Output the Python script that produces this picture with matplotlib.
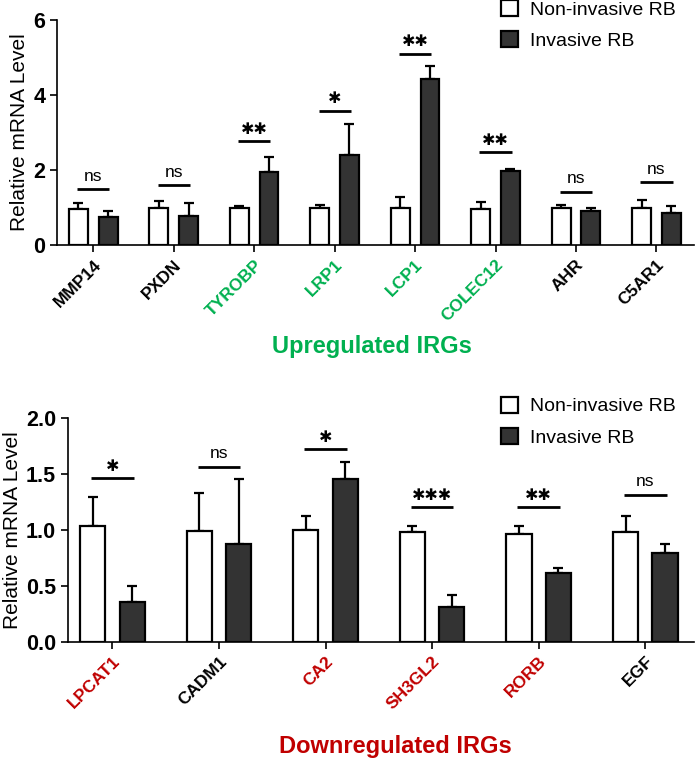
import numpy as np
import matplotlib
matplotlib.use("Agg")
import matplotlib.pyplot as plt
from matplotlib.patches import Patch

plt.rcParams['font.family'] = ['Liberation Sans', 'DejaVu Sans']

# upregulated panel
up_genes = ['MMP14', 'PXDN', 'TYROBP', 'LRP1', 'LCP1', 'COLEC12', 'AHR', 'C5AR1']
up_colors = ['black', 'black', '#00B050', '#00B050', '#00B050', '#00B050', 'black', 'black']
up_non = [0.96, 0.99, 0.98, 0.98, 1.00, 0.96, 0.99, 1.00]
up_non_err = [0.15, 0.19, 0.06, 0.08, 0.29, 0.18, 0.09, 0.20]
up_inv = [0.74, 0.78, 1.96, 2.39, 4.42, 1.97, 0.90, 0.85]
up_inv_err = [0.17, 0.33, 0.38, 0.83, 0.36, 0.06, 0.10, 0.20]
up_sig = ['ns', 'ns', '**', '*', '**', '**', 'ns', 'ns']
up_sig_y = [1.49, 1.59, 2.76, 3.58, 5.10, 2.47, 1.42, 1.67]

# downregulated panel
down_genes = ['LPCAT1', 'CADM1', 'CA2', 'SH3GL2', 'RORB', 'EGF']
down_colors = ['#C00000', 'black', '#C00000', '#C00000', '#C00000', 'black']
down_non = [1.036, 0.99, 1.00, 0.98, 0.96, 0.98]
down_non_err = [0.26, 0.34, 0.12, 0.05, 0.07, 0.14]
down_inv = [0.357, 0.87, 1.455, 0.31, 0.61, 0.795]
down_inv_err = [0.14, 0.58, 0.145, 0.11, 0.045, 0.075]
down_sig = ['*', 'ns', '*', '***', '**', 'ns']
down_sig_y = [1.46, 1.56, 1.72, 1.20, 1.20, 1.31]

legend_labels = ['Non-invasive RB', 'Invasive RB']
dark = '#333333'

fig = plt.figure(figsize=(6.95, 7.59), dpi=100)
ax1 = fig.add_axes([0.082, 0.677, 0.917, 0.297])
ax2 = fig.add_axes([0.0974, 0.1545, 0.9016, 0.2952])


def draw_panel(ax, genes, colors, non, non_err, inv, inv_err, sig, sig_y, ymax, yticks, fmt, xlim):
    x = np.arange(len(genes))
    w = 0.235
    off = 0.185
    ax.bar(x - off, non, w, color='white', edgecolor='black', linewidth=1.6, zorder=2)
    ax.bar(x + off, inv, w, color=dark, edgecolor='black', linewidth=1.6, zorder=2)
    ax.errorbar(x - off, non, yerr=[np.zeros(len(x)), non_err], fmt='none',
                ecolor='black', elinewidth=1.6, capsize=3.5, capthick=1.6, zorder=1)
    ax.errorbar(x + off, inv, yerr=[np.zeros(len(x)), inv_err], fmt='none',
                ecolor='black', elinewidth=1.6, capsize=3.5, capthick=1.6, zorder=1)
    for i in range(len(x)):
        ax.plot([x[i] - 0.2, x[i] + 0.2], [sig_y[i], sig_y[i]], color='black', lw=2.0,
                solid_capstyle='butt')
        if sig[i] == 'ns':
            ax.annotate('ns', (x[i], sig_y[i]), xytext=(0, 4), textcoords='offset points',
                        ha='center', va='bottom', fontsize=12.5)
        else:
            ax.annotate('\u2731' * len(sig[i]), (x[i], sig_y[i]), xytext=(0, 3),
                        textcoords='offset points', ha='center', va='bottom',
                        fontsize=11.5, family='DejaVu Sans')
    ax.set_xlim(xlim)
    ax.set_ylim(0, ymax)
    ax.set_yticks(yticks)
    ax.set_yticklabels([fmt.format(t) for t in yticks], fontsize=15.5, fontweight='bold')
    ax.set_xticks(x)
    ax.set_xticklabels(genes, rotation=45, ha='right', rotation_mode='anchor',
                       fontsize=12.5, fontweight='bold')
    for lab, c in zip(ax.get_xticklabels(), colors):
        lab.set_color(c)
    ax.spines['top'].set_visible(False)
    ax.spines['right'].set_visible(False)
    ax.spines['left'].set_linewidth(1.2)
    ax.spines['bottom'].set_linewidth(1.2)
    ax.tick_params(axis='both', width=1.2, length=5, direction='out')
    ax.set_ylabel('Relative mRNA Level', fontsize=15, labelpad=3)


draw_panel(ax1, up_genes, up_colors, up_non, up_non_err, up_inv, up_inv_err,
           up_sig, up_sig_y, 6, [0, 2, 4, 6], '{:.0f}', (-0.45, 7.47))
draw_panel(ax2, down_genes, down_colors, down_non, down_non_err, down_inv, down_inv_err,
           down_sig, down_sig_y, 2.0, [0.0, 0.5, 1.0, 1.5, 2.0], '{:.1f}', (-0.42, 5.46))

handles = [Patch(facecolor='white', edgecolor='black', linewidth=1.6),
           Patch(facecolor=dark, edgecolor='black', linewidth=1.6)]
for ypos in (1.008, 0.485):
    fig.legend(handles, legend_labels, loc='upper left', bbox_to_anchor=(0.712, ypos),
               frameon=False, fontsize=14, handlelength=0.9, handleheight=0.9,
               handletextpad=0.6, labelspacing=0.65, borderaxespad=0, borderpad=0.3)

fig.text(0.535, 0.543, 'Upregulated IRGs', color='#00B050', fontsize=17,
         fontweight='bold', ha='center', va='center')
fig.text(0.569, 0.016, 'Downregulated IRGs', color='#C00000', fontsize=17,
         fontweight='bold', ha='center', va='center')

fig.savefig('out.png', dpi=100)
